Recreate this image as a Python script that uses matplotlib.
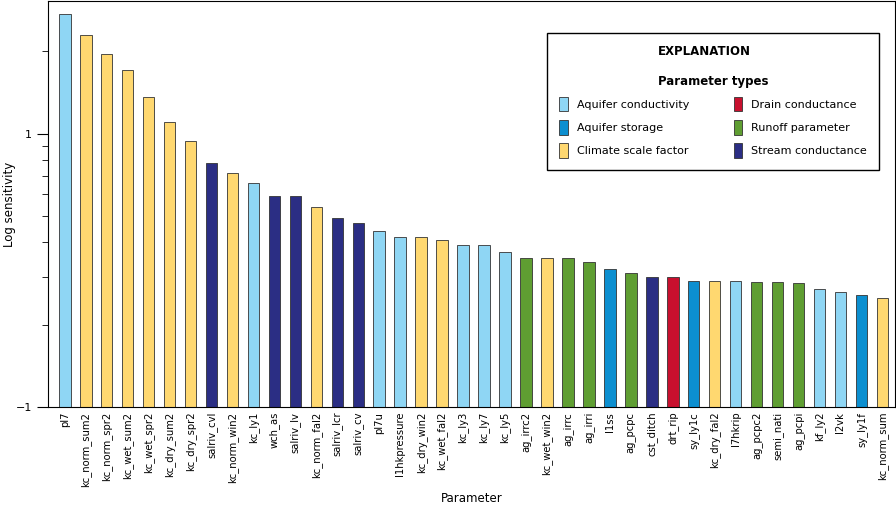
import numpy as np
import matplotlib
matplotlib.use("Agg")
import matplotlib.pyplot as plt
from matplotlib.patches import Patch
from matplotlib.ticker import FixedLocator, FixedFormatter, NullFormatter

params = ["pl7", "kc_norm_sum2", "kc_norm_spr2", "kc_wet_sum2", "kc_wet_spr2", "kc_dry_sum2",
          "kc_dry_spr2", "salriv_cvl", "kc_norm_win2", "kc_ly1", "wch_as", "salriv_lv",
          "kc_norm_fal2", "salriv_lcr", "salriv_cv", "pl7u", "l1hkpressure", "kc_dry_win2",
          "kc_wet_fal2", "kc_ly3", "kc_ly7", "kc_ly5", "ag_irrc2", "kc_wet_win2", "ag_irrc",
          "ag_irri", "l1ss", "ag_pcpc", "cst_ditch", "drt_rip", "sy_ly1c", "kc_dry_fal2",
          "l7hkrip", "ag_pcpc2", "semi_nati", "ag_pcpi", "kf_ly2", "l2vk", "sy_ly1f", "kc_norm_sum"]
sens = [2.74, 2.30, 1.96, 1.71, 1.36, 1.10, 0.94, 0.78, 0.72, 0.66, 0.59, 0.59, 0.54, 0.49,
        0.47, 0.44, 0.42, 0.42, 0.41, 0.39, 0.39, 0.37, 0.35, 0.35, 0.35, 0.34, 0.32, 0.31,
        0.30, 0.30, 0.29, 0.29, 0.29, 0.286, 0.286, 0.284, 0.27, 0.263, 0.256, 0.25]
ptype = ["cond", "clim", "clim", "clim", "clim", "clim", "clim", "stream", "clim", "cond",
         "stream", "stream", "clim", "stream", "stream", "cond", "cond", "clim", "clim", "cond",
         "cond", "cond", "runoff", "clim", "runoff", "runoff", "stor", "runoff", "stream", "drain",
         "stor", "clim", "cond", "runoff", "runoff", "runoff", "cond", "cond", "stor", "clim"]

colors = {"cond": "#8fd6f4", "stor": "#0c8fd0", "clim": "#ffd870",
          "drain": "#c8102e", "runoff": "#5f9e32", "stream": "#2b2e84"}
labels = {"cond": "Aquifer conductivity", "stor": "Aquifer storage", "clim": "Climate scale factor",
          "drain": "Drain conductance", "runoff": "Runoff parameter", "stream": "Stream conductance"}

fig = plt.figure(figsize=(8.96, 5.23), dpi=100)
ax = fig.add_axes([48 / 896, 116 / 523, 847 / 896, 406 / 523])
x = np.arange(len(params))
ax.bar(x, sens, width=0.55, color=[colors[t] for t in ptype], edgecolor="#333333", linewidth=0.6)
ax.set_yscale("log")
ax.set_ylim(0.1, 3.06)
ax.set_xlim(-0.8, len(params) - 0.4)
ax.yaxis.set_major_locator(FixedLocator([0.1, 1]))
ax.yaxis.set_major_formatter(FixedFormatter(["\u22121", "1"]))
ax.yaxis.set_minor_locator(FixedLocator([0.2, 0.3, 0.4, 0.5, 0.6, 0.7, 0.8, 0.9, 2]))
ax.yaxis.set_minor_formatter(NullFormatter())
ax.tick_params(axis="y", which="major", length=8, labelsize=8)
ax.tick_params(axis="y", which="minor", length=4)
ax.set_xticks(x)
ax.set_xticklabels(params, rotation=90, fontsize=7.2)
ax.tick_params(axis="x", length=0)
ax.set_ylabel("Log sensitivity", fontsize=8.5)
ax.yaxis.set_label_coords(-0.038, 0.5)
ax.set_xlabel("Parameter", fontsize=8.5)

order = ["cond", "stor", "clim", "drain", "runoff", "stream"]
handles = [Patch(facecolor=colors[k], edgecolor="#333333", linewidth=0.6, label=labels[k]) for k in order]
leg = ax.legend(handles=handles, ncol=2, loc="upper right", bbox_to_anchor=(0.988, 0.935),
                title="EXPLANATION\n\nParameter types", fontsize=8, handlelength=0.8,
                handleheight=1.6, columnspacing=4.0, borderpad=1.1, labelspacing=0.8,
                fancybox=False, edgecolor="black", framealpha=1)
leg.get_title().set_fontweight("bold")
leg.get_title().set_fontsize(8.5)
fig.savefig("out.png", dpi=100)
